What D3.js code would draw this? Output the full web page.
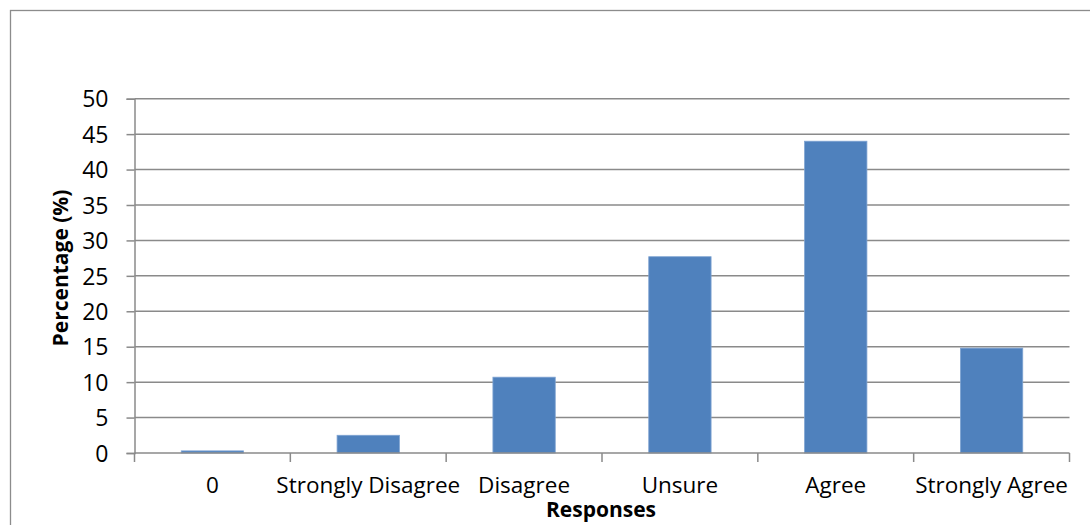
<!DOCTYPE html>
<html>
<head>
<meta charset="utf-8">
<script src="https://cdn.jsdelivr.net/npm/d3@7"></script>
<style>
  html, body { margin: 0; padding: 0; background: #fff; }
  svg { display: block; }
  text { font-family: "Open Sans", "Noto Sans", sans-serif; fill: #000; }
</style>
</head>
<body>
<svg id="chart" width="1090" height="525"></svg>
<script>
// Survey responses and their share of respondents
const categories = ["0", "Strongly Disagree", "Disagree", "Unsure", "Agree", "Strongly Agree"];
const percentages = [0.3, 2.5, 10.7, 27.7, 44, 14.8];
const yTicks = [0, 5, 10, 15, 20, 25, 30, 35, 40, 45, 50];

const svg = d3.select("#chart");
const plot = { left: 134.5, right: 1069.5, top: 98.7, bottom: 453 };

// Outer chart frame (runs off the right and bottom edges)
svg.append("rect")
  .attr("x", 10.5).attr("y", 10.5)
  .attr("width", 1200).attr("height", 700)
  .attr("fill", "none").attr("stroke", "#8c8c8c").attr("stroke-width", 1.3);

const x = d3.scaleBand().domain(categories).range([plot.left, plot.right]).paddingInner(0).paddingOuter(0);
const y = d3.scaleLinear().domain([0, 50]).range([plot.bottom, plot.top]);

// Horizontal gridlines
svg.append("g").selectAll("line").data(yTicks.filter(d => d > 0)).join("line")
  .attr("x1", plot.left).attr("x2", plot.right)
  .attr("y1", d => y(d)).attr("y2", d => y(d))
  .attr("stroke", "#8a8a8a").attr("stroke-width", 1.5);

// Y axis
const yAxis = svg.append("g").attr("transform", `translate(${plot.left},0)`)
  .call(d3.axisLeft(y).tickValues(yTicks).tickSize(8).tickPadding(18));
yAxis.select(".domain").attr("stroke", "#8a8a8a").attr("stroke-width", 1.5);
yAxis.selectAll(".tick line").attr("stroke", "#8a8a8a").attr("stroke-width", 1.5);
yAxis.selectAll(".tick text").style("font-size", "23px").attr("dy", "0.36em");

// Bars
const barW = x.bandwidth() * 0.4;
svg.append("g").selectAll("rect").data(categories).join("rect")
  .attr("x", d => x(d) + (x.bandwidth() - barW) / 2)
  .attr("width", barW)
  .attr("y", (d, i) => y(percentages[i]))
  .attr("height", (d, i) => plot.bottom - y(percentages[i]))
  .attr("fill", "#4f81bd")
  .attr("stroke", "#7ea3d2").attr("stroke-width", 0.8);

// X axis with ticks at category boundaries
const bounds = categories.map(c => x(c)).concat([plot.right]);
const xAxis = svg.append("g");
xAxis.append("line")
  .attr("x1", plot.left).attr("x2", plot.right)
  .attr("y1", plot.bottom).attr("y2", plot.bottom)
  .attr("stroke", "#8a8a8a").attr("stroke-width", 1.5);
xAxis.selectAll("line.tk").data(bounds).join("line").attr("class", "tk")
  .attr("x1", d => d).attr("x2", d => d)
  .attr("y1", plot.bottom).attr("y2", plot.bottom + 9)
  .attr("stroke", "#8a8a8a").attr("stroke-width", 1.5);
xAxis.selectAll("text").data(categories).join("text")
  .attr("x", d => x(d) + x.bandwidth() / 2)
  .attr("y", 493)
  .attr("text-anchor", "middle")
  .style("font-size", "22.5px")
  .text(d => d);

// Axis titles
svg.append("text")
  .attr("x", 601).attr("y", 517)
  .attr("text-anchor", "middle")
  .style("font-size", "21px").style("font-weight", "bold")
  .text("Responses");
svg.append("text")
  .attr("transform", "translate(68,268) rotate(-90)")
  .attr("text-anchor", "middle")
  .style("font-size", "21px").style("font-weight", "bold")
  .text("Percentage (%)");
</script>
</body>
</html>
